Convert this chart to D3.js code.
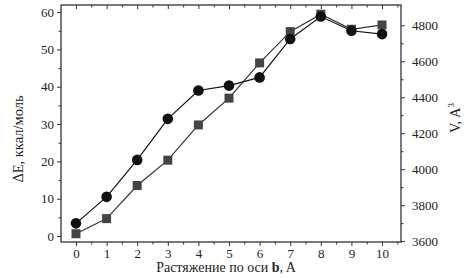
<!DOCTYPE html>
<html><head><meta charset="utf-8">
<script src="https://cdn.jsdelivr.net/npm/d3@7"></script>
<style>body{margin:0;background:#fff}svg{display:block}svg text{font-family:"Liberation Serif",serif !important;fill:#222}</style>
</head><body><svg id="c" width="471" height="278" font-family="Liberation Serif"></svg>
<script>
const xValues = [0,1,2,3,4,5,6,7,8,9,10];
const energy = [3.4,10.5,20.4,31.4,39.0,40.3,42.5,52.8,58.8,55.0,54.1];
const volume = [3641,3725,3909,4050,4246,4395,4591,4765,4862,4778,4802];
const xTicks = [0,1,2,3,4,5,6,7,8,9,10];
const leftTicks = [0,10,20,30,40,50,60];
const rightTicks = [3600,3800,4000,4200,4400,4600,4800];

const svg = d3.select('#c');
const L=61, R=401, T=5, B=242;
const x = d3.scaleLinear().domain([-0.49,10.62]).range([L,R]);
const yL = d3.scaleLinear().domain([-1.6,61.9]).range([B,T]);
const yR = d3.scaleLinear().domain([3595,4913]).range([B,T]);

const g = svg.append('g');
g.append('rect').attr('x',L).attr('y',T).attr('width',R-L).attr('height',B-T).attr('fill','none').attr('stroke','#333').attr('stroke-width',1.3);

function styleAxis(sel){sel.attr('font-family','Liberation Serif');sel.selectAll('path').remove();sel.selectAll('line').attr('stroke','#333').attr('stroke-width',1);sel.selectAll('text').attr('font-family','Liberation Serif').style('font-size','13px').attr('fill','#222');}
const minorX = d3.range(-0.5,10.6,0.5).filter(v=>v>x.domain()[0]&&v<x.domain()[1]&&!xTicks.includes(v));
g.append('g').attr('transform',`translate(0,${B})`).call(d3.axisBottom(x).tickValues(xTicks).tickFormat(d3.format('d')).tickSize(4).tickPadding(3)).call(styleAxis);
g.append('g').attr('transform',`translate(0,${B})`).call(d3.axisBottom(x).tickValues(minorX).tickFormat('').tickSize(2.5)).call(styleAxis);
g.append('g').attr('transform',`translate(0,${T})`).call(d3.axisBottom(x).tickValues(xTicks).tickFormat('').tickSize(4)).call(styleAxis);
g.append('g').attr('transform',`translate(0,${T})`).call(d3.axisBottom(x).tickValues(minorX).tickFormat('').tickSize(2.5)).call(styleAxis);
const minorL = d3.range(-5,65,5).filter(v=>!leftTicks.includes(v)&&v>yL.domain()[0]&&v<yL.domain()[1]);
g.append('g').attr('transform',`translate(${L},0)`).call(d3.axisLeft(yL).tickValues(leftTicks).tickFormat(d3.format('d')).tickSize(4).tickPadding(3)).call(styleAxis);
g.append('g').attr('transform',`translate(${L},0)`).call(d3.axisLeft(yL).tickValues(minorL).tickFormat('').tickSize(2.5)).call(styleAxis);
const minorR = d3.range(3700,4900,200);
g.append('g').attr('transform',`translate(${R},0)`).call(d3.axisRight(yR).tickValues(rightTicks).tickFormat(d3.format('d')).tickSize(4).tickPadding(7)).call(styleAxis);
g.append('g').attr('transform',`translate(${R},0)`).call(d3.axisRight(yR).tickValues(minorR).tickFormat('').tickSize(2.5)).call(styleAxis);

const lineV = d3.line().x((d,i)=>x(xValues[i])).y(d=>yR(d));
g.append('path').datum(volume).attr('d',lineV).attr('fill','none').attr('stroke','#333').attr('stroke-width',1.2);
const lineE = d3.line().x((d,i)=>x(xValues[i])).y(d=>yL(d));
g.append('path').datum(energy).attr('d',lineE).attr('fill','none').attr('stroke','#111').attr('stroke-width',1.2);
g.selectAll('rect.sq').data(volume).enter().append('rect').attr('class','sq')
 .attr('x',(d,i)=>x(xValues[i])-4.5).attr('y',d=>yR(d)-4.5).attr('width',9).attr('height',9).attr('fill','#444');
g.selectAll('circle.ci').data(energy).enter().append('circle').attr('class','ci')
 .attr('cx',(d,i)=>x(xValues[i])).attr('cy',d=>yL(d)).attr('r',5.3).attr('fill','#111');

svg.append('text').attr('transform','translate(23,139) rotate(-90)').attr('text-anchor','middle').style('font-size','14.5px').text('ΔE, ккал/моль');
const rt = svg.append('text').attr('transform','translate(460,118) rotate(-90)').attr('text-anchor','middle').style('font-size','14.5px');
rt.append('tspan').text('V, A');
rt.append('tspan').attr('dy','-6').style('font-size','9px').text('3');
const bt = svg.append('text').attr('x',226).attr('y',272).attr('text-anchor','middle').style('font-size','14px');
bt.append('tspan').text('Растяжение по оси ');
bt.append('tspan').style('font-weight','bold').text('b');
bt.append('tspan').text(', A');
</script></body></html>
